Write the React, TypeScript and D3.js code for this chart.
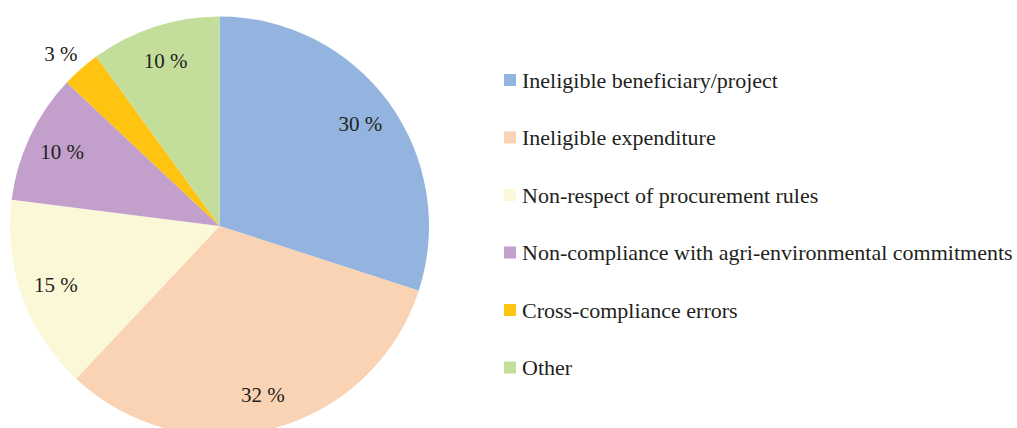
import React from 'react';
import * as d3 from 'd3';

// error types and their share of the total (%)
const categories = [
  'Ineligible beneficiary/project',
  'Ineligible expenditure',
  'Non-respect of procurement rules',
  'Non-compliance with agri-environmental commitments',
  'Cross-compliance errors',
  'Other',
];
const shares = [30, 32, 15, 10, 3, 10];
const colors = ['#92B4DE', '#FAD3B4', '#FAF8D7', '#C2A0CB', '#FFC312', '#C3DE9B'];

const W = 1017, H = 428;
const cx = 219.5, cy = 226, R = 209.5;
const FONT = '"Liberation Serif", "DejaVu Serif", serif';

export default function App() {
  const pie = d3.pie<number>().sort(null).value((d) => d);
  const arcs = pie(shares);
  const arc = d3.arc<d3.PieArcDatum<number>>().innerRadius(0).outerRadius(R);
  const labelArc = d3.arc<d3.PieArcDatum<number>>().innerRadius(174).outerRadius(174);
  const outerArc = d3.arc<d3.PieArcDatum<number>>().innerRadius(234).outerRadius(234);

  // legend rows
  const legendY = d3.scalePoint<string>().domain(categories).range([80, 367.5]);

  return (
    <svg width={W} height={H} style={{ position: 'absolute', left: 0, top: 0 }}>
      <rect width={W} height={H} fill="#fff" />
      <g transform={`translate(${cx},${cy})`}>
        {arcs.map((a, i) => (
          <path key={i} d={arc(a) || ''} fill={colors[i]} />
        ))}
        {arcs.map((a, i) => {
          const small = a.data < 5;
          const [x, y] = small ? outerArc.centroid(a) : labelArc.centroid(a);
          return (
            <text key={'l' + i} x={small ? x - 4 : x} y={small ? y + 3 : y} dy="0.35em" textAnchor="middle"
              fontFamily={FONT} fontSize={21} fill="#231f20">
              {a.data} %
            </text>
          );
        })}
      </g>
      <g>
        {categories.map((c, i) => (
          <g key={c} transform={`translate(504,${legendY(c)})`}>
            <rect x={0} y={-6} width={12} height={12} fill={colors[i]} />
            <text x={18} y={0} dy="0.35em" fontFamily={FONT} fontSize={22} fill="#231f20">
              {c}
            </text>
          </g>
        ))}
      </g>
    </svg>
  );
}
